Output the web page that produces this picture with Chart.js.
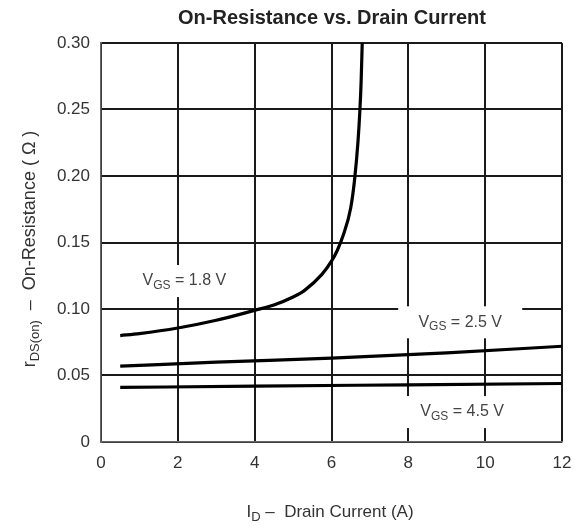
<!DOCTYPE html>
<html>
<head>
<meta charset="utf-8">
<script src="https://cdn.jsdelivr.net/npm/chart.js@4.4.1/dist/chart.umd.min.js"></script>
<style>
  html, body { margin: 0; padding: 0; background: #fff; }
  #wrap { width: 575px; height: 528px; position: relative; }
</style>
</head>
<body>
<div id="wrap"><canvas id="myChart" width="575" height="528"></canvas></div>
<script>
// curves
const vgs18X = [0.5, 1, 2, 3, 4, 4.5, 5, 5.3, 5.75, 6.0, 6.15, 6.3, 6.5, 6.6, 6.69, 6.74, 6.77, 6.8];
const vgs18Y = [0.080, 0.0815, 0.0857, 0.0915, 0.099, 0.103, 0.109, 0.114, 0.126, 0.136, 0.144, 0.155, 0.176, 0.197, 0.226, 0.250, 0.270, 0.300];
const vgs25X = [0.5, 3, 6, 9, 12];
const vgs25Y = [0.057, 0.060, 0.063, 0.067, 0.072];
const vgs45X = [0.5, 4, 8, 12];
const vgs45Y = [0.041, 0.042, 0.043, 0.044];

const xTicks = [0, 2, 4, 6, 8, 10, 12];
const yTicks = [0, 0.05, 0.10, 0.15, 0.20, 0.25, 0.30];

// curve labels: [sub text, rest, x, y] in data units
const curveLabels = [
  ["GS", " = 1.8 V", 2.17, 0.121],
  ["GS", " = 2.5 V", 9.35, 0.090],
  ["GS", " = 4.5 V", 9.4, 0.0225],
];

const FONT = "'Liberation Sans', Arial, sans-serif";

const toPts = (xs, ys) => xs.map((x, i) => ({ x: x, y: ys[i] }));

// text with subscript helper, parts: [[text, isSub], ...]
const drawSub = (ctx, parts, x, y, big, small) => {
  const fontOf = (p) => (p[1] ? small : big) + "px " + FONT;
  let total = 0;
  parts.forEach((p) => {
    ctx.font = fontOf(p);
    total += ctx.measureText(p[0]).width;
  });
  let cx = x - total / 2;
  parts.forEach((p) => {
    ctx.font = fontOf(p);
    ctx.fillText(p[0], cx, p[1] ? y + big * 0.3 : y);
    cx += ctx.measureText(p[0]).width;
  });
  return total;
};

const extras = {
  id: "extras",
  beforeDatasetsDraw(chart) {
    const ctx = chart.ctx;
    const xs = chart.scales.x;
    const ys = chart.scales.y;
    ctx.save();
    ctx.textBaseline = "middle";
    ctx.textAlign = "left";
    curveLabels.forEach((l) => {
      const px = xs.getPixelForValue(l[2]);
      const py = ys.getPixelForValue(l[3]);
      ctx.fillStyle = "#fff";
      ctx.fillRect(px - 62, py - 16, 124, 32);
      ctx.fillStyle = "#444";
      drawSub(ctx, [["V", false], [l[0], true], [l[1], false]], px, py, 16, 12);
    });
    ctx.restore();
  },
  afterDraw(chart) {
    const ctx = chart.ctx;
    ctx.save();
    ctx.fillStyle = "#222";
    ctx.textBaseline = "middle";
    ctx.textAlign = "center";
    ctx.font = "bold 20px " + FONT;
    ctx.fillText("On-Resistance vs. Drain Current", 332, 18);

    ctx.textAlign = "left";
    ctx.fillStyle = "#333";
    // x title
    drawSub(ctx, [["I", false], ["D", true], [" \u2013  Drain Current (A)", false]], 330, 512, 17, 13);
    // y title
    ctx.translate(30, 249);
    ctx.rotate(-Math.PI / 2);
    drawSub(ctx, [["r", false], ["DS(on)", true], ["  \u2013  On-Resistance ( \u03A9 )", false]], 0, 0, 18, 13);
    ctx.restore();
  },
};

const ctx = document.getElementById("myChart").getContext("2d");
new Chart(ctx, {
  type: "scatter",
  data: {
    datasets: [
      { label: "VGS = 1.8 V", data: toPts(vgs18X, vgs18Y) },
      { label: "VGS = 2.5 V", data: toPts(vgs25X, vgs25Y) },
      { label: "VGS = 4.5 V", data: toPts(vgs45X, vgs45Y) },
    ].map((d) => Object.assign(d, {
      showLine: true,
      cubicInterpolationMode: "monotone",
      borderColor: "#000",
      borderWidth: 3.2,
      pointRadius: 0,
      fill: false,
    })),
  },
  options: {
    responsive: false,
    animation: false,
    devicePixelRatio: 1,
    layout: { padding: { top: 43, right: 13, left: 0, bottom: 0 } },
    plugins: { legend: { display: false }, tooltip: { enabled: false } },
    scales: {
      x: {
        type: "linear",
        min: 0,
        max: 12,
        afterBuildTicks: (s) => { s.ticks = xTicks.map((v) => ({ value: v })); },
        afterFit: (s) => {
          s.height = 86;
          s.paddingLeft = 0;
          s.paddingRight = 0;
        },
        ticks: { color: "#333", font: { family: FONT, size: 17 }, padding: 11, maxRotation: 0 },
        grid: { color: "#1a1a1a", lineWidth: 2, drawTicks: false },
        border: { color: "#666", width: 1.5 },
      },
      y: {
        min: 0,
        max: 0.3,
        afterBuildTicks: (s) => { s.ticks = yTicks.map((v) => ({ value: v })); },
        afterFit: (s) => {
          s.width = 101;
          s.paddingTop = 0;
          s.paddingBottom = 0;
        },
        ticks: {
          color: "#333",
          font: { family: FONT, size: 17 },
          padding: 11,
          callback: (v) => (v === 0 ? "0" : v.toFixed(2)),
        },
        grid: { color: "#1a1a1a", lineWidth: 2, drawTicks: false },
        border: { color: "#666", width: 1.5 },
      },
    },
  },
  plugins: [extras],
});
</script>
</body>
</html>
